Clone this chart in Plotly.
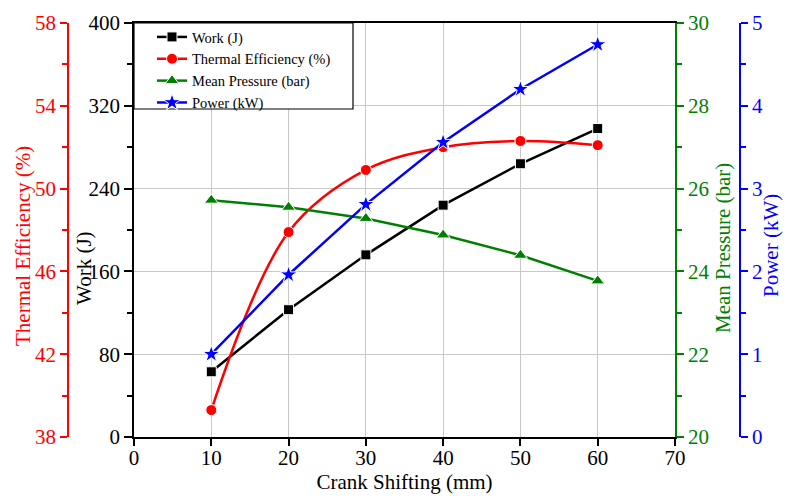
import plotly.graph_objects as go

crank_mm = [10, 20, 30, 40, 50, 60]
work_J = [63, 123, 176, 224, 264, 298]
thermal_eff = [39.3, 47.9, 50.9, 52.0, 52.3, 52.1]
mean_pressure = [25.72, 25.55, 25.28, 24.88, 24.39, 23.77]
power_kW = [1.0, 1.96, 2.81, 3.56, 4.2, 4.74]

W, H = 787, 496
T, B = 23, 59
PH = H - T - B
FONT = "Liberation Serif"
RED, GREEN, BLUE = "#FF0000", "#008000", "#0000FF"

def px(x):
    return x / W

def py(y):
    return (H - B - y) / PH

fig = go.Figure()
mk_line = dict(color="white", width=1)
fig.add_trace(go.Scatter(x=crank_mm, y=work_J, name="Work (J)", mode="lines+markers",
                         line=dict(color="black", width=2.5),
                         marker=dict(symbol="square", size=10, color="black", line=mk_line),
                         yaxis="y"))
fig.add_trace(go.Scatter(x=crank_mm, y=thermal_eff, name="Thermal Efficiency (%)", mode="lines+markers",
                         line=dict(color=RED, width=2.5, shape="spline"),
                         marker=dict(symbol="circle", size=11, color=RED, line=mk_line),
                         yaxis="y2"))
fig.add_trace(go.Scatter(x=crank_mm, y=mean_pressure, name="Mean Pressure (bar)", mode="lines+markers",
                         line=dict(color=GREEN, width=2.5),
                         marker=dict(symbol="triangle-up", size=12, color=GREEN, line=mk_line),
                         yaxis="y3"))
fig.add_trace(go.Scatter(x=crank_mm, y=power_kW, name="Power (kW)", mode="lines+markers",
                         line=dict(color=BLUE, width=2.5),
                         marker=dict(symbol="star", size=13, color=BLUE, line=mk_line),
                         yaxis="y4"))

tickfont = dict(family=FONT, size=21)
x0, x1 = px(134), px(675)

fig.update_layout(
    width=W, height=H,
    margin=dict(l=0, r=0, t=T, b=B, autoexpand=False),
    paper_bgcolor="white", plot_bgcolor="white",
    font=dict(family=FONT, size=21, color="black"),
    showlegend=True,
    legend=dict(x=px(152), y=py(21), xanchor="left", yanchor="top", bgcolor="rgba(0,0,0,0)",
                borderwidth=0, font=dict(family=FONT, size=14.5), itemwidth=30),
    xaxis=dict(domain=[x0, x1], range=[0, 70], dtick=10, tick0=0, automargin=False,
               showline=True, linecolor="black", linewidth=1.5, mirror=True,
               ticks="outside", ticklen=7, tickcolor="black", tickwidth=1.5,
               ticklabelstandoff=-6,
               showgrid=True, gridcolor="#c8c8c8", gridwidth=1, zeroline=False,
               tickfont=tickfont,
               title=dict(text="Crank Shifting (mm)", font=dict(family=FONT, size=21), standoff=1)),
    yaxis=dict(range=[0, 400], dtick=80, tick0=0, automargin=False,
               showline=True, linecolor="black", linewidth=1.5,
               ticks="outside", ticklen=8, tickcolor="black", tickwidth=1.5,
               minor=dict(dtick=40, ticklen=5, tickcolor="black", tickwidth=1.5, showgrid=False, ticks="outside"),
               showgrid=True, gridcolor="#c8c8c8", gridwidth=1, zeroline=False,
               tickfont=tickfont),
    yaxis2=dict(range=[38, 58], dtick=4, tick0=38, overlaying="y", anchor="free", position=px(68),
                side="left", showline=True, linecolor=RED, linewidth=1.5, automargin=False,
                ticks="outside", ticklen=7, tickcolor=RED, tickwidth=1.5,
                minor=dict(dtick=2, ticklen=5, tickcolor=RED, tickwidth=1.5, ticks="outside"),
                showgrid=False, zeroline=False, tickfont=dict(family=FONT, size=21, color=RED)),
    yaxis3=dict(range=[20, 30], dtick=2, tick0=20, overlaying="y", anchor="x", side="right",
                showline=True, linecolor=GREEN, linewidth=1.5, automargin=False,
                ticks="outside", ticklen=7, tickcolor=GREEN, tickwidth=1.5,
                minor=dict(dtick=1, ticklen=5, tickcolor=GREEN, tickwidth=1.5, ticks="outside"),
                showgrid=False, zeroline=False, tickfont=dict(family=FONT, size=21, color=GREEN)),
    yaxis4=dict(range=[0, 5], dtick=1, tick0=0, overlaying="y", anchor="free", position=px(740),
                side="right", showline=True, linecolor=BLUE, linewidth=1.5, automargin=False,
                ticks="outside", ticklen=7, tickcolor=BLUE, tickwidth=1.5,
                minor=dict(dtick=0.5, ticklen=5, tickcolor=BLUE, tickwidth=1.5, ticks="outside"),
                showgrid=False, zeroline=False, tickfont=dict(family=FONT, size=21, color=BLUE)),
)

# legend frame
fig.add_shape(type="rect", xref="paper", yref="paper",
              x0=px(134), x1=px(353), y0=py(109), y1=1,
              line=dict(color="black", width=1.2), fillcolor="white", layer="above")

def ytitle(text, xpix, ypix, color):
    fig.add_annotation(text=text, xref="paper", yref="paper",
                       x=px(xpix), y=py(ypix),
                       xanchor="center", yanchor="middle", textangle=-90, showarrow=False,
                       font=dict(family=FONT, size=21, color=color))

ytitle("Thermal Efficiency (%)", 23, 246, RED)
ytitle("Work (J)", 84, 268, "black")
ytitle("Mean Pressure (bar)", 723, 248, GREEN)
ytitle("Power (kW)", 771, 246, BLUE)

fig.write_html("out.html")
